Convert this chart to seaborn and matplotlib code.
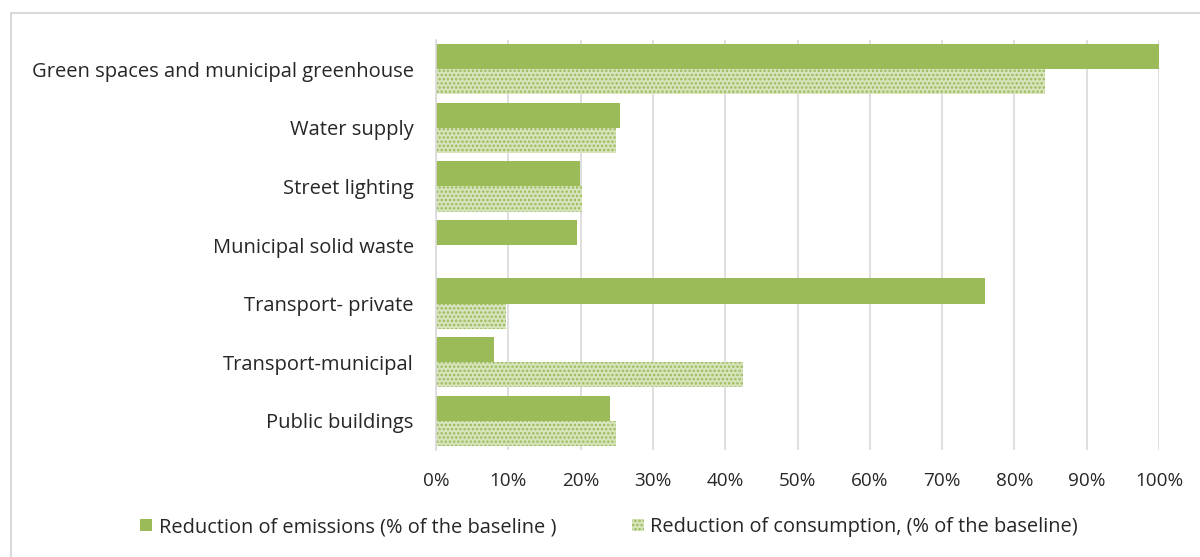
import matplotlib
matplotlib.use("Agg")
import matplotlib.pyplot as plt
from matplotlib.patches import Patch, Rectangle
from matplotlib.ticker import PercentFormatter
import pandas as pd
import seaborn as sns

# Sectors and reductions (percent of the baseline)
sectors = [
    "Green spaces and municipal greenhouse",
    "Water supply",
    "Street lighting",
    "Municipal solid waste",
    "Transport- private",
    "Transport-municipal",
    "Public buildings",
]
emissions = [100.0, 25.4, 19.9, 19.5, 75.9, 8.0, 24.1]
consumption = [84.2, 24.9, 20.2, 0.0, 9.7, 42.5, 24.9]
series_names = [
    "Reduction of emissions (% of the baseline )",
    "Reduction of consumption, (% of the baseline)",
]
x_ticks = list(range(0, 101, 10))

df = pd.DataFrame({
    "sector": sectors * 2,
    "value": emissions + consumption,
    "series": [series_names[0]] * len(sectors) + [series_names[1]] * len(sectors),
})

sns.set_theme(style="white")
plt.rcParams["font.family"] = ["Open Sans", "DejaVu Sans"]
plt.rcParams["hatch.linewidth"] = 1.2

green = "#9bbb59"
light_green = "#d7e4bd"
text_col = "#262626"

fig = plt.figure(figsize=(12, 5.57), dpi=100)
ax = fig.add_axes([436 / 1200, 1 - 450 / 557, (1159 - 436) / 1200, (450 - 40) / 557])

sns.barplot(
    data=df, y="sector", x="value", hue="series", orient="h",
    palette=[green, light_green], width=0.86, gap=0, ax=ax,
    legend=False, saturation=1,
)

n = len(sectors)
for i, bar in enumerate(ax.patches):
    if i >= n:
        bar.set_facecolor(light_green)
        bar.set_edgecolor(green)
        bar.set_hatch("....")
        bar.set_linewidth(0)
    else:
        bar.set_facecolor(green)
        bar.set_edgecolor("none")

ax.set_xlim(0, 100)
ax.set_xticks(x_ticks)
ax.xaxis.set_major_formatter(PercentFormatter(decimals=0))
ax.grid(axis="x", color="#d9d9d9", linewidth=1.2)
ax.set_axisbelow(True)
for side in ["top", "right", "bottom"]:
    ax.spines[side].set_visible(False)
ax.spines["left"].set_color("#d9d9d9")
ax.spines["left"].set_linewidth(1.2)
ax.set_xlabel("")
ax.set_ylabel("")
ax.tick_params(axis="y", length=0, pad=16, labelsize=14.5, labelcolor=text_col)
ax.tick_params(axis="x", length=0, pad=16, labelsize=13.6, labelcolor=text_col)

handles = [
    Patch(facecolor=green, edgecolor="none"),
    Patch(facecolor=light_green, edgecolor=green, hatch="....", linewidth=0),
]
fig.legend(
    handles, series_names, loc="center left", bbox_to_anchor=(122 / 1200, 1 - 527 / 557),
    ncol=2, frameon=False, fontsize=14.4, handlelength=0.6, handleheight=0.6,
    handletextpad=0.35, columnspacing=3.75, labelcolor=text_col,
)

# chart frame
fig.patches.append(Rectangle(
    (11 / 1200, -0.05), 1.1, 1 - 13 / 557 + 0.05, transform=fig.transFigure,
    fill=False, edgecolor="#d9d9d9", linewidth=1.5,
))

fig.savefig("out.png", dpi=100)
